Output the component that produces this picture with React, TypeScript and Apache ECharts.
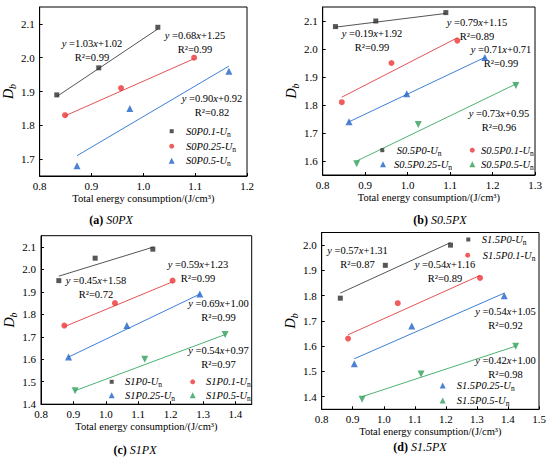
import React, { useEffect, useRef } from 'react';
import * as echarts from 'echarts';

const FONT = "'Liberation Serif', 'Times New Roman', 'DejaVu Serif', serif";

// ---------- (a) S0PX ----------
const aNames = ['S0P0.1-Un', 'S0P0.25-Un', 'S0P0.5-Un'];
const aX = [[0.833, 0.914, 1.028], [0.849, 0.957, 1.098], [0.872, 0.974, 1.165]];
const aY = [[1.89, 1.97, 2.09], [1.83, 1.91, 2.0], [1.68, 1.85, 1.96]];
const aFitX = [[0.833, 1.028], [0.849, 1.098], [0.872, 1.165]];
const aFitY = [[1.885, 2.085], [1.828, 1.997], [1.71, 1.975]];
const aSlope = ['1.03', '0.68', '0.90'];
const aIntercept = ['1.02', '1.25', '0.92'];
const aR2 = ['0.99', '0.99', '0.82'];
const aXTicks = [0.8, 0.9, 1.0, 1.1, 1.2];
const aYTicks = [1.7, 1.8, 1.9, 2.0, 2.1];
const aXRange = [0.8, 1.2];
const aYRange = [1.65, 2.15];

// ---------- (b) S0.5PX ----------
const bNames = ['S0.5P0-Un', 'S0.5P0.1-Un', 'S0.5P0.25-Un', 'S0.5P0.5-Un'];
const bX = [[0.83, 0.925, 1.09], [0.845, 0.962, 1.117], [0.862, 0.998, 1.182], [0.88, 1.025, 1.255]];
const bY = [[2.08, 2.1, 2.13], [1.81, 1.95, 2.03], [1.74, 1.84, 1.97], [1.59, 1.73, 1.87]];
const bFitX = [[0.83, 1.09], [0.845, 1.117], [0.862, 1.182], [0.88, 1.255]];
const bFitY = [[2.078, 2.127], [1.828, 2.04], [1.74, 1.97], [1.6, 1.875]];
const bSlope = ['0.19', '0.79', '0.71', '0.73'];
const bIntercept = ['1.92', '1.15', '0.71', '0.95'];
const bR2 = ['0.99', '0.89', '0.99', '0.96'];
const bXTicks = [0.8, 0.9, 1.0, 1.1, 1.2, 1.3];
const bYTicks = [1.6, 1.7, 1.8, 1.9, 2.0, 2.1];
const bXRange = [0.8, 1.3];
const bYRange = [1.55, 2.15];

// ---------- (c) S1PX ----------
const cNames = ['S1P0-Un', 'S1P0.1-Un', 'S1P0.25-Un', 'S1P0.5-Un'];
const cX = [[0.855, 0.967, 1.145], [0.872, 1.028, 1.206], [0.885, 1.065, 1.29], [0.905, 1.12, 1.368]];
const cY = [[1.95, 2.05, 2.09], [1.75, 1.85, 1.95], [1.61, 1.75, 1.89], [1.46, 1.6, 1.71]];
const cFitX = [[0.855, 1.148], [0.872, 1.206], [0.885, 1.29], [0.905, 1.368]];
const cFitY = [[1.97, 2.1], [1.745, 1.945], [1.61, 1.89], [1.46, 1.71]];
const cSlope = ['0.45', '0.59', '0.69', '0.54'];
const cIntercept = ['1.58', '1.23', '1.00', '0.97'];
const cR2 = ['0.72', '0.99', '0.99', '0.97'];
const cXTicks = [0.8, 0.9, 1.0, 1.1, 1.2, 1.3, 1.4];
const cYTicks = [1.4, 1.5, 1.6, 1.7, 1.8, 1.9, 2.0, 2.1];
const cXRange = [0.8, 1.45];
const cYRange = [1.4, 2.15];

// ---------- (d) S1.5PX ----------
const dNames = ['S1.5P0-Un', 'S1.5P0.1-Un', 'S1.5P0.25-Un', 'S1.5P0.5-Un'];
const dX = [[0.86, 1.005, 1.215], [0.885, 1.045, 1.31], [0.905, 1.09, 1.388], [0.93, 1.12, 1.425]];
const dY = [[1.79, 1.92, 2.0], [1.63, 1.77, 1.87], [1.53, 1.68, 1.8], [1.39, 1.49, 1.6]];
const dFitX = [[0.86, 1.215], [0.885, 1.31], [0.905, 1.388], [0.93, 1.425]];
const dFitY = [[1.81, 2.01], [1.645, 1.88], [1.55, 1.81], [1.4, 1.6]];
const dSlope = ['0.57', '0.54', '0.54', '0.42'];
const dIntercept = ['1.31', '1.16', '1.05', '1.00'];
const dR2 = ['0.87', '0.89', '0.92', '0.98'];
const dXTicks = [0.8, 0.9, 1.0, 1.1, 1.2, 1.3, 1.4, 1.5];
const dYTicks = [1.4, 1.5, 1.6, 1.7, 1.8, 1.9, 2.0];
const dXRange = [0.8, 1.5];
const dYRange = [1.35, 2.05];

const captionTags = ['(a)', '(b)', '(c)', '(d)'];
const captionNames = ['S0PX', 'S0.5PX', 'S1PX', 'S1.5PX'];

// ---------- styles / layout ----------
const MARK = ['#2d2d2d', '#ec3434', '#1f62c9', '#2f9f5b'];
const LINE = ['#555555', '#e55353', '#3e80d6', '#4db273'];
const SYMBOL = ['rect', 'circle', 'triangle', 'triangle'];
const ROT = [0, 0, 0, 180];
const SIZE = [5, 6, 7, 7];

const panels = [
  {
    names: aNames, x: aX, y: aY, fx: aFitX, fy: aFitY, slope: aSlope, icpt: aIntercept, r2: aR2,
    xt: aXTicks, yt: aYTicks, xr: aXRange, yr: aYRange,
    grid: { left: 39.5, top: 7, width: 207.5, height: 169 },
    colors: [0, 1, 2],
    eq: [[92, 43], [195, 35], [212, 98]],
    leg: [[171.7, 132.7, 186], [171.7, 147.7, 186], [171.7, 162.3, 186]],
    cap: [111, 220],
  },
  {
    names: bNames, x: bX, y: bY, fx: bFitX, fy: bFitY, slope: bSlope, icpt: bIntercept, r2: bR2,
    xt: bXTicks, yt: bYTicks, xr: bXRange, yr: bYRange,
    grid: { left: 322.7, top: 7, width: 212.3, height: 168 },
    colors: [0, 1, 2, 3],
    eq: [[372, 33], [477, 22], [501, 49], [499, 113]],
    leg: [[382.3, 151.7, 396.7], [472.3, 151.7, 481], [383, 165.7, 394], [472.3, 165.7, 481]],
    cap: [440, 220],
  },
  {
    names: cNames, x: cX, y: cY, fx: cFitX, fy: cFitY, slope: cSlope, icpt: cIntercept, r2: cR2,
    xt: cXTicks, yt: cYTicks, xr: cXRange, yr: cYRange,
    grid: { left: 41, top: 235.7, width: 210.7, height: 168.5 },
    colors: [0, 1, 2, 3],
    eq: [[96, 280.7], [198, 264], [218.5, 303], [218.5, 350]],
    leg: [[111.7, 383.3, 125], [192.7, 383.3, 206], [111.7, 396.7, 125], [192.7, 396.7, 206]],
    cap: [135, 450],
  },
  {
    names: dNames, x: dX, y: dY, fx: dFitX, fy: dFitY, slope: dSlope, icpt: dIntercept, r2: dR2,
    xt: dXTicks, yt: dYTicks, xr: dXRange, yr: dYRange,
    grid: { left: 321.7, top: 232.5, width: 217.3, height: 176.8 },
    colors: [0, 1, 2, 3],
    eq: [[357.5, 250], [445, 264], [505.5, 311], [505.5, 360]],
    leg: [[468.3, 241, 481.7], [467.7, 256.7, 482.7], [442.7, 387, 456.7], [442.7, 402, 456.7]],
    cap: [420, 447],
  },
];

const FS = 10.5;
const TICK_FS = 11;

function buildOption() {
  const grid: any[] = [];
  const xAxis: any[] = [];
  const yAxis: any[] = [];
  const series: any[] = [];
  const legend: any[] = [];
  const graphic: any[] = [];

  panels.forEach((p, i) => {
    grid.push({ ...p.grid, show: true, borderColor: '#000', borderWidth: 1, backgroundColor: 'transparent', containLabel: false });
    const labelStyle = { fontFamily: FONT, fontSize: TICK_FS, color: '#000' };
    xAxis.push({
      type: 'value', gridIndex: i, min: p.xr[0], max: p.xr[1],
      name: 'Total energy consumption/(J/cm³)', nameLocation: 'middle', nameGap: 17,
      nameTextStyle: { fontFamily: FONT, fontSize: FS, color: '#000' },
      axisLine: { show: true, onZero: false, lineStyle: { color: '#000', width: 1 } },
      axisTick: { show: true, inside: true, length: 3, customValues: p.xt, lineStyle: { color: '#000' } },
      axisLabel: { customValues: p.xt, formatter: (v: number) => v.toFixed(1), margin: 4, ...labelStyle },
      splitLine: { show: false },
    });
    yAxis.push({
      type: 'value', gridIndex: i, min: p.yr[0], max: p.yr[1],
      name: '{d|D}{sb|b}', nameLocation: 'middle', nameGap: 22, nameRotate: 90,
      nameTextStyle: {
        fontFamily: FONT,
        rich: {
          d: { fontFamily: FONT, fontStyle: 'italic', fontSize: 14, lineHeight: 18, color: '#000' },
          sb: { fontFamily: FONT, fontStyle: 'italic', fontSize: 10, lineHeight: 10, verticalAlign: 'bottom', color: '#000' },
        },
      },
      axisLine: { show: true, onZero: false, lineStyle: { color: '#000', width: 1 } },
      axisTick: { show: true, inside: true, length: 3, customValues: p.yt, lineStyle: { color: '#000' } },
      axisLabel: { customValues: p.yt, formatter: (v: number) => v.toFixed(1), margin: 5, ...labelStyle },
      splitLine: { show: false },
    });

    p.names.forEach((name, j) => {
      const c = p.colors[j];
      series.push({
        type: 'scatter', name, xAxisIndex: i, yAxisIndex: i,
        data: p.x[j].map((v, k) => [v, p.y[j][k]]),
        symbol: SYMBOL[c], symbolSize: SIZE[c], symbolRotate: ROT[c],
        itemStyle: { color: MARK[c] }, z: 3,
      });
      series.push({
        type: 'line', name: 'fit ' + name, xAxisIndex: i, yAxisIndex: i,
        data: [[p.fx[j][0], p.fy[j][0]], [p.fx[j][1], p.fy[j][1]]],
        symbol: 'none', showSymbol: false,
        lineStyle: { color: LINE[c], width: 1 }, z: 2,
      });

      const [sx, sy, tx] = p.leg[j];
      const s = SIZE[c] - 1;
      const pad = Math.max(0, tx - sx - s / 2 - 5);
      legend.push({
        data: [name], left: sx - s / 2, top: sy - 7, padding: 0, itemGap: 0,
        itemWidth: s, itemHeight: s, selectedMode: false,
        formatter: (n: string) => `{i|${n.slice(0, -1)}}{s|n}`,
        textStyle: {
          fontFamily: FONT,
          rich: {
            i: { fontFamily: FONT, fontStyle: 'italic', fontSize: FS, lineHeight: 14, color: '#000', padding: [0, 0, 0, pad] },
            s: { fontFamily: FONT, fontSize: 7.5, lineHeight: 8, verticalAlign: 'bottom', color: '#000' },
          },
        },
      });

      const [ex, ey] = p.eq[j];
      graphic.push({
        type: 'text', x: ex, y: ey, silent: true,
        style: {
          text: `{i|y} =${p.slope[j]}{i|x}+${p.icpt[j]}`,
          fontFamily: FONT, fontSize: FS, fill: '#000', align: 'center', verticalAlign: 'middle',
          rich: { i: { fontFamily: FONT, fontStyle: 'italic', fontSize: FS, fill: '#000' } },
        },
      });
      graphic.push({
        type: 'text', x: ex, y: ey + 14, silent: true,
        style: {
          text: `R²=${p.r2[j]}`,
          fontFamily: FONT, fontSize: FS, fill: '#000', align: 'center', verticalAlign: 'middle',
        },
      });
    });

    graphic.push({
      type: 'text', x: p.cap[0], y: p.cap[1], silent: true,
      style: {
        text: `{b|${captionTags[i]}} {i|${captionNames[i]}}`,
        fontFamily: FONT, fontSize: 12, fill: '#000', align: 'center', verticalAlign: 'middle',
        rich: {
          b: { fontFamily: FONT, fontWeight: 'bold', fontSize: 12, fill: '#000' },
          i: { fontFamily: FONT, fontStyle: 'italic', fontSize: 12, fill: '#000' },
        },
      },
    });
  });

  return {
    animation: false,
    backgroundColor: '#ffffff',
    textStyle: { fontFamily: FONT },
    grid, xAxis, yAxis, series, legend, graphic,
  };
}

export default function App() {
  const ref = useRef<HTMLDivElement>(null);
  useEffect(() => {
    document.body.style.margin = '0';
    if (!ref.current) return;
    const chart = echarts.init(ref.current, undefined, { renderer: 'svg' });
    chart.setOption(buildOption() as any);
    return () => chart.dispose();
  }, []);
  return <div ref={ref} style={{ width: 550, height: 462 }} />;
}
